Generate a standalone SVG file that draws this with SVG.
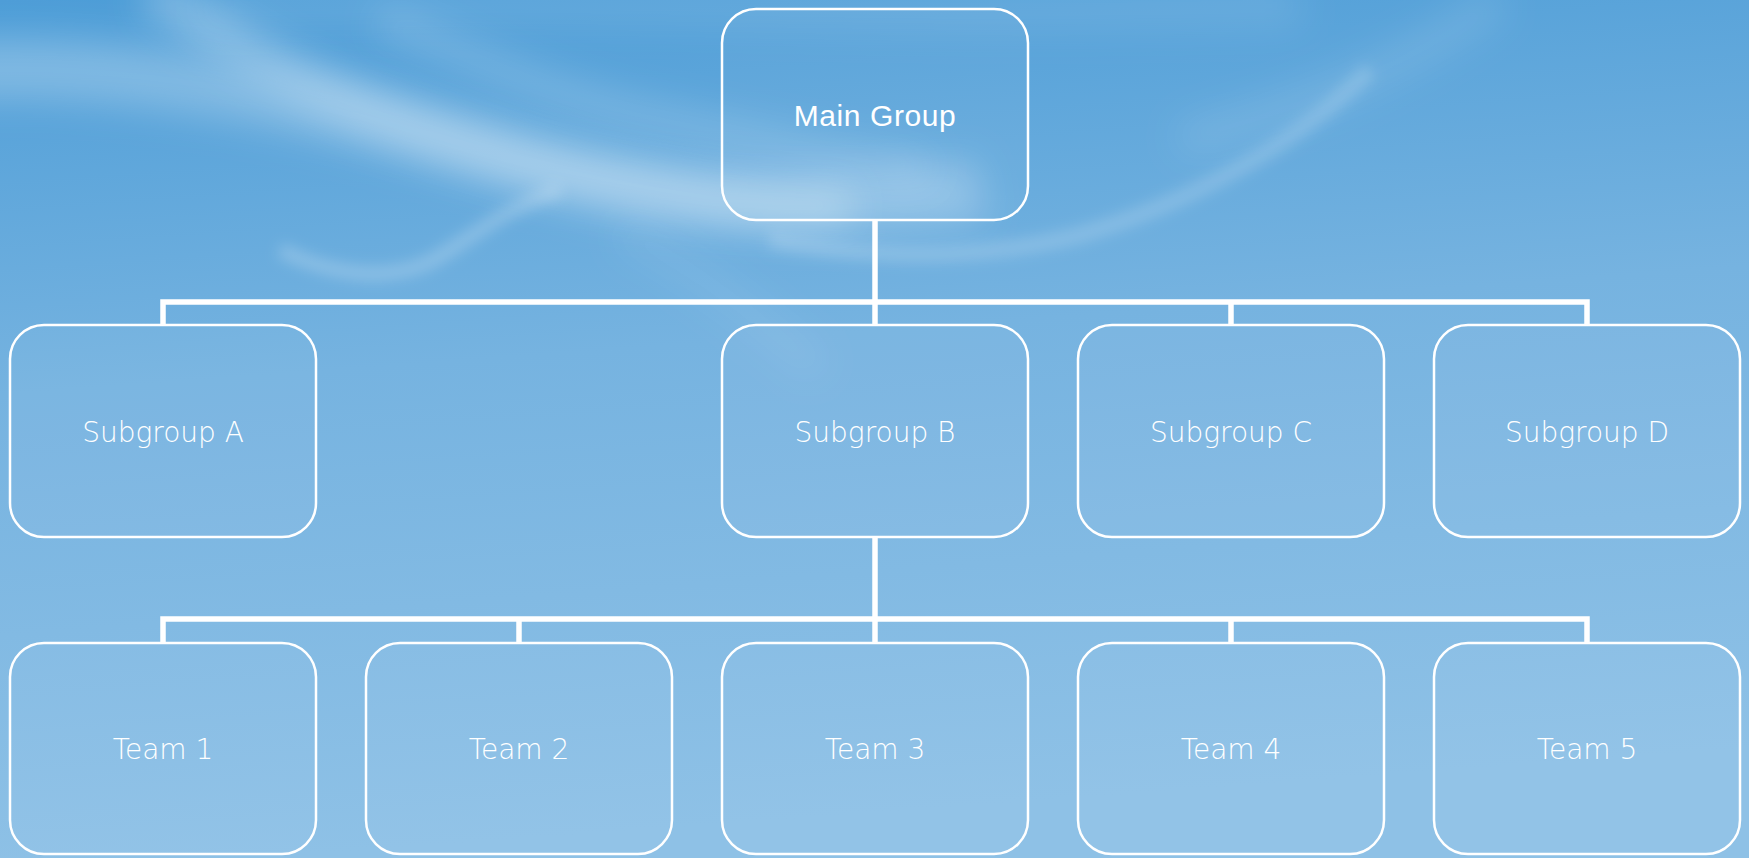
<svg xmlns="http://www.w3.org/2000/svg" width="1749" height="858" viewBox="0 0 1749 858">
  <defs>
    <linearGradient id="bg" x1="0" y1="0" x2="0.15" y2="1">
      <stop offset="0" stop-color="#4d9dd7"/>
      <stop offset="0.45" stop-color="#76b3e0"/>
      <stop offset="1" stop-color="#8ec1e6"/>
    </linearGradient>
    <filter id="blur" filterUnits="userSpaceOnUse" x="-200" y="-200" width="2150" height="1000">
      <feGaussianBlur stdDeviation="18"/>
    </filter>
    <filter id="blur2" filterUnits="userSpaceOnUse" x="-200" y="-200" width="2150" height="1000">
      <feGaussianBlur stdDeviation="7"/>
    </filter>
    <style>
      .box { fill: #ffffff; fill-opacity: 0.04; stroke: #ffffff; stroke-width: 2.5; }
      .lbl { fill: #ffffff; font-family: "DejaVu Sans", "Liberation Sans", sans-serif; font-weight: 200; font-size: 28px; text-anchor: middle; }
      .main { fill: #ffffff; font-family: "Liberation Sans", Arial, sans-serif; font-size: 30px; letter-spacing: 0.6px; text-anchor: middle; }
      .conn { fill: none; stroke: #ffffff; stroke-width: 5.5; stroke-linejoin: miter; }
    </style>
  </defs>

  <rect x="0" y="0" width="1749" height="858" fill="url(#bg)"/>

  <g id="wisps" fill="none" stroke="#ffffff">
    <path d="M -40 70 C 150 60 350 110 520 160 C 650 200 800 215 980 190" stroke-width="60" stroke-opacity="0.25" filter="url(#blur)"/>
    <path d="M 150 -10 C 250 60 380 130 560 170 C 680 195 760 210 850 205" stroke-width="40" stroke-opacity="0.28" filter="url(#blur)"/>
    <path d="M 380 20 C 480 60 560 100 660 120 C 760 140 840 160 930 170" stroke-width="30" stroke-opacity="0.18" filter="url(#blur)"/>
    <path d="M 560 190 C 500 210 470 240 430 262 C 380 285 320 270 280 250" stroke-width="14" stroke-opacity="0.22" filter="url(#blur2)"/>
    <path d="M 1370 70 C 1300 140 1200 200 1080 235 C 960 265 850 255 770 240" stroke-width="16" stroke-opacity="0.18" filter="url(#blur2)"/>
    <path d="M 1500 0 C 1400 70 1300 110 1180 140" stroke-width="30" stroke-opacity="0.12" filter="url(#blur)"/>
    <path d="M 200 10 C 500 -10 900 20 1300 5" stroke-width="40" stroke-opacity="0.1" filter="url(#blur)"/>
    <path d="M 620 230 C 700 270 760 320 820 370" stroke-width="30" stroke-opacity="0.08" filter="url(#blur)"/>
  </g>

  <g id="connectors">
    <path class="conn" d="M 875 220 V 302"/>
    <path class="conn" d="M 163 325 V 302 H 1587 V 325"/>
    <path class="conn" d="M 875 302 V 325"/>
    <path class="conn" d="M 1231 302 V 325"/>
    <path class="conn" d="M 875 537 V 619"/>
    <path class="conn" d="M 163 643 V 619 H 1587 V 643"/>
    <path class="conn" d="M 519 619 V 643"/>
    <path class="conn" d="M 875 619 V 643"/>
    <path class="conn" d="M 1231 619 V 643"/>
  </g>

  <g id="main-group">
    <rect class="box" x="722" y="9" width="306" height="211" rx="34"/>
    <text class="main" x="875" y="126">Main Group</text>
  </g>

  <g id="subgroup-a">
    <rect class="box" x="10" y="325" width="306" height="212" rx="34"/>
    <text class="lbl" x="163" y="442">Subgroup A</text>
  </g>
  <g id="subgroup-b">
    <rect class="box" x="722" y="325" width="306" height="212" rx="34"/>
    <text class="lbl" x="875" y="442">Subgroup B</text>
  </g>
  <g id="subgroup-c">
    <rect class="box" x="1078" y="325" width="306" height="212" rx="34"/>
    <text class="lbl" x="1231" y="442">Subgroup C</text>
  </g>
  <g id="subgroup-d">
    <rect class="box" x="1434" y="325" width="306" height="212" rx="34"/>
    <text class="lbl" x="1587" y="442">Subgroup D</text>
  </g>

  <g id="team-1">
    <rect class="box" x="10" y="643" width="306" height="211" rx="34"/>
    <text class="lbl" x="163" y="759">Team 1</text>
  </g>
  <g id="team-2">
    <rect class="box" x="366" y="643" width="306" height="211" rx="34"/>
    <text class="lbl" x="519" y="759">Team 2</text>
  </g>
  <g id="team-3">
    <rect class="box" x="722" y="643" width="306" height="211" rx="34"/>
    <text class="lbl" x="875" y="759">Team 3</text>
  </g>
  <g id="team-4">
    <rect class="box" x="1078" y="643" width="306" height="211" rx="34"/>
    <text class="lbl" x="1231" y="759">Team 4</text>
  </g>
  <g id="team-5">
    <rect class="box" x="1434" y="643" width="306" height="211" rx="34"/>
    <text class="lbl" x="1587" y="759">Team 5</text>
  </g>
</svg>
